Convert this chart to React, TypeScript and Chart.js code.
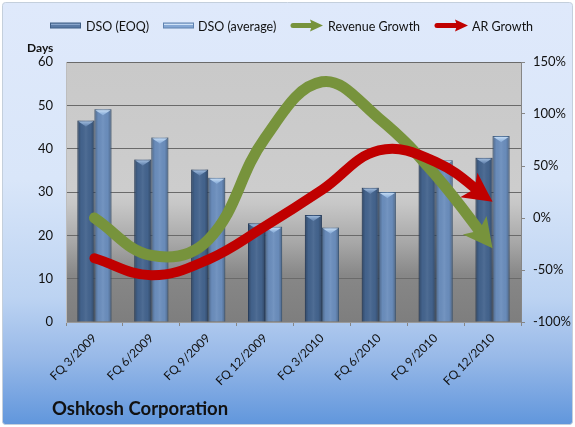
import React, { useEffect, useRef } from "react";
import { Chart, registerables } from "chart.js";

Chart.register(...registerables);

const categories = [
  "FQ 3/2009",
  "FQ 6/2009",
  "FQ 9/2009",
  "FQ 12/2009",
  "FQ 3/2010",
  "FQ 6/2010",
  "FQ 9/2010",
  "FQ 12/2010",
];
const dsoEOQ = [46.5, 37.5, 35.2, 22.8, 24.7, 31.0, 37.6, 37.9];
const dsoAverage = [49.1, 42.6, 33.3, 22.0, 21.8, 30.0, 37.3, 42.9];
const revenueGrowth = [0, -36, -21, 77, 131, 96, 41, -29];
const arGrowth = [-38.7, -55, -40, -8, 27, 65, 54, 15.7];

const FONT = "Lato, 'Open Sans', 'DejaVu Sans', sans-serif";
const GREEN = "#77933c";
const RED = "#c00000";

function drawHead(ctx: CanvasRenderingContext2D, tx: number, ty: number, dx: number, dy: number, L: number, W: number, N: number, color: string) {
  const nx = -dy, ny = dx;
  const bx = tx - dx * L, by = ty - dy * L;
  ctx.beginPath();
  ctx.moveTo(tx, ty);
  ctx.lineTo(bx + nx * W, by + ny * W);
  ctx.lineTo(tx - dx * (L - N), ty - dy * (L - N));
  ctx.lineTo(bx - nx * W, by - ny * W);
  ctx.closePath();
  ctx.fillStyle = color;
  ctx.fill();
}

function endGeom(meta: any) {
  const pts = meta.data;
  const a = pts[pts.length - 2];
  const b = pts[pts.length - 1];
  let dx = b.x - a.x, dy = b.y - a.y;
  const len = Math.hypot(dx, dy) || 1;
  dx /= len; dy /= len;
  return { tx: b.x, ty: b.y, dx, dy };
}

const decorPlugin = {
  id: "decor",
  beforeDraw(chart: any) {
    const ctx = chart.ctx as CanvasRenderingContext2D;
    const W = chart.width, H = chart.height;
    ctx.save();
    ctx.fillStyle = "#ffffff";
    ctx.fillRect(0, 0, W, H);
    const g = ctx.createLinearGradient(0, 2, 0, H - 2);
    g.addColorStop(0, "#dfe9fb");
    g.addColorStop(0.42, "#d9e6f9");
    g.addColorStop(0.7, "#bcd3f2");
    g.addColorStop(0.84, "#98b9e8");
    g.addColorStop(1, "#6096dc");
    ctx.beginPath();
    (ctx as any).roundRect(2.5, 2.5, W - 5, H - 5, 3);
    ctx.fillStyle = g;
    ctx.fill();
    ctx.strokeStyle = "#c4cfdc";
    ctx.lineWidth = 1;
    ctx.stroke();
    const a = chart.chartArea;
    const pg = ctx.createLinearGradient(0, a.top, 0, a.bottom);
    pg.addColorStop(0, "#c9c9c9");
    pg.addColorStop(0.5, "#cdcdcd");
    pg.addColorStop(0.55, "#c6c6c6");
    pg.addColorStop(0.7, "#a6a6a6");
    pg.addColorStop(0.82, "#878787");
    pg.addColorStop(1, "#7e7e7e");
    ctx.fillStyle = pg;
    ctx.fillRect(a.left, a.top, a.right - a.left, a.bottom - a.top);
    ctx.restore();
  },
  beforeDatasetDraw(chart: any, args: any) {
    const meta = chart.getDatasetMeta(args.index);
    if (meta.type !== "line") return;
    const ctx = chart.ctx as CanvasRenderingContext2D;
    const { tx, ty, dx, dy } = endGeom(meta);
    const cut = 14;
    const px = tx - dx * cut, py = ty - dy * cut;
    const nx = -dy, ny = dx;
    const B = 3000;
    ctx.save();
    ctx.beginPath();
    ctx.moveTo(px + nx * B, py + ny * B);
    ctx.lineTo(px + nx * B - dx * B, py + ny * B - dy * B);
    ctx.lineTo(px - nx * B - dx * B, py - ny * B - dy * B);
    ctx.lineTo(px - nx * B, py - ny * B);
    ctx.closePath();
    ctx.clip();
  },
  afterDatasetDraw(chart: any, args: any) {
    const meta = chart.getDatasetMeta(args.index);
    const ctx = chart.ctx as CanvasRenderingContext2D;
    if (meta.type === "line") {
      ctx.restore();
      const { tx, ty, dx, dy } = endGeom(meta);
      drawHead(ctx, tx, ty, dx, dy, 29, 15, 7, meta.dataset.options.borderColor);
      return;
    }
    if (meta.type !== "bar") return;
    const light = args.index === 3;
    ctx.save();
    meta.data.forEach((el: any) => {
      const { x, y, base, width } = el.getProps(["x", "y", "base", "width"], true);
      const l = x - width / 2, r = x + width / 2;
      const g = ctx.createLinearGradient(l, 0, r, 0);
      g.addColorStop(0, "rgba(0,0,0,0.28)");
      g.addColorStop(0.22, "rgba(0,0,0,0.02)");
      g.addColorStop(0.5, "rgba(255,255,255,0.06)");
      g.addColorStop(0.78, "rgba(0,0,0,0.02)");
      g.addColorStop(1, "rgba(0,0,0,0.28)");
      ctx.fillStyle = g;
      ctx.fillRect(l, y, width, base - y);
      const cg = ctx.createLinearGradient(0, y, 0, y + 5);
      cg.addColorStop(0, light ? "#cfe3f7" : "#a9c4e4");
      cg.addColorStop(1, light ? "#8fb2dc" : "#6a8ab4");
      ctx.fillStyle = cg;
      ctx.beginPath();
      ctx.moveTo(l + 1, y + 1);
      ctx.lineTo(r - 1, y + 1);
      ctx.lineTo(r - 4, y + 3);
      ctx.lineTo(x, y + 6);
      ctx.lineTo(l + 4, y + 3);
      ctx.closePath();
      ctx.fill();
    });
    ctx.restore();
  },
  afterDraw(chart: any) {
    const ctx = chart.ctx as CanvasRenderingContext2D;
    ctx.save();
    const ly = 25.5;
    const sw = (x: number, fill: string, edge: string, hi: string) => {
      ctx.fillStyle = fill;
      ctx.fillRect(x, ly - 2.5, 31, 5);
      ctx.fillStyle = hi;
      ctx.fillRect(x + 1, ly - 2, 29, 1.5);
      ctx.strokeStyle = edge;
      ctx.lineWidth = 1;
      ctx.strokeRect(x + 0.5, ly - 2.5, 30, 5);
    };
    sw(50, "#5a7aa5", "#3f5e86", "#8aa6cc");
    sw(163, "#85a7d4", "#5f82b0", "#cfe2f7");
    const legArrow = (x0: number, x1: number, color: string) => {
      ctx.strokeStyle = color;
      ctx.lineWidth = 5;
      ctx.lineCap = "round";
      ctx.beginPath();
      ctx.moveTo(x0 + 2, ly);
      ctx.lineTo(x1 - 8, ly);
      ctx.stroke();
      drawHead(ctx, x1, ly, 1, 0, 13, 6, 2, color);
    };
    legArrow(291, 323, GREEN);
    legArrow(435, 468, RED);
    ctx.fillStyle = "#111111";
    ctx.font = `12.5px ${FONT}`;
    ctx.textBaseline = "middle";
    ctx.textAlign = "left";
    ctx.fillText("DSO (EOQ)", 86, ly + 1);
    ctx.fillText("DSO (average)", 198, ly + 1);
    ctx.fillText("Revenue Growth", 328, ly + 1);
    ctx.fillText("AR Growth", 472, ly + 1);
    ctx.font = `bold 12px ${FONT}`;
    ctx.fillText("Days", 27, 48);
    ctx.font = `bold 18.5px ${FONT}`;
    ctx.fillText("Oshkosh Corporation", 52, 409);
    ctx.restore();
  },
};

export default function App() {
  const ref = useRef<HTMLCanvasElement>(null);
  useEffect(() => {
    document.body.style.margin = "0";
    const canvas = ref.current!;
    const chart = new Chart(canvas, {
      type: "bar",
      data: {
        labels: categories,
        datasets: [
          {
            type: "line",
            label: "AR Growth",
            data: arGrowth,
            yAxisID: "y1",
            borderColor: RED,
            backgroundColor: RED,
            borderWidth: 10,
            tension: 0.4,
            pointRadius: 0,
            borderCapStyle: "round",
            borderJoinStyle: "round",
            fill: false,
            order: 0,
            clip: false as any,
          },
          {
            type: "line",
            label: "Revenue Growth",
            data: revenueGrowth,
            yAxisID: "y1",
            borderColor: GREEN,
            backgroundColor: GREEN,
            borderWidth: 11,
            tension: 0.4,
            pointRadius: 0,
            borderCapStyle: "round",
            borderJoinStyle: "round",
            fill: false,
            order: 1,
            clip: false as any,
          },
          {
            type: "bar",
            label: "DSO (EOQ)",
            data: dsoEOQ,
            yAxisID: "y",
            backgroundColor: "#44648e",
            borderColor: "#36527a",
            borderWidth: 1,
            categoryPercentage: 0.6,
            barPercentage: 1,
            order: 2,
          },
          {
            type: "bar",
            label: "DSO (average)",
            data: dsoAverage,
            yAxisID: "y",
            backgroundColor: "#6b8ebd",
            borderColor: "#56789f",
            borderWidth: 1,
            categoryPercentage: 0.6,
            barPercentage: 1,
            order: 2,
          },
        ],
      } as any,
      options: {
        animation: false,
        responsive: false,
        events: [],
        layout: { padding: { top: 62, left: 0, right: 0, bottom: 0 } },
        plugins: {
          legend: { display: false },
          title: { display: false },
          tooltip: { enabled: false },
        },
        scales: {
          x: {
            offset: true,
            grid: { drawOnChartArea: false, drawTicks: true, tickLength: 4, color: "#868686" },
            border: { display: true, color: "#9a9a9a" },
            ticks: {
              autoSkip: false,
              minRotation: 45,
              maxRotation: 45,
              padding: 5,
              color: "#111111",
              font: { family: FONT, size: 12 },
            },
            afterFit: (s: any) => {
              s.height = 105;
            },
          },
          y: {
            position: "left",
            min: 0,
            max: 60,
            ticks: { stepSize: 10, padding: 13, color: "#111111", font: { family: FONT, size: 13 } },
            grid: { color: "#6a6a6a", drawTicks: false },
            border: { display: true, color: "#bdbdbd" },
            afterFit: (s: any) => {
              s.width = 66;
            },
          },
          y1: {
            position: "right",
            min: -100,
            max: 150,
            ticks: {
              stepSize: 50,
              padding: 8,
              color: "#111111",
              font: { family: FONT, size: 13 },
              callback: (v: any) => `${v}%`,
            },
            grid: { drawOnChartArea: false, drawTicks: true, tickLength: 4, color: "#868686" },
            border: { display: true, color: "#868686" },
            afterFit: (s: any) => {
              s.width = 54;
            },
          },
        },
      } as any,
      plugins: [decorPlugin],
    });
    return () => chart.destroy();
  }, []);
  return (
    <div style={{ width: 575, height: 427, position: "relative" }}>
      <canvas ref={ref} width={575} height={427} style={{ display: "block" }} />
    </div>
  );
}
